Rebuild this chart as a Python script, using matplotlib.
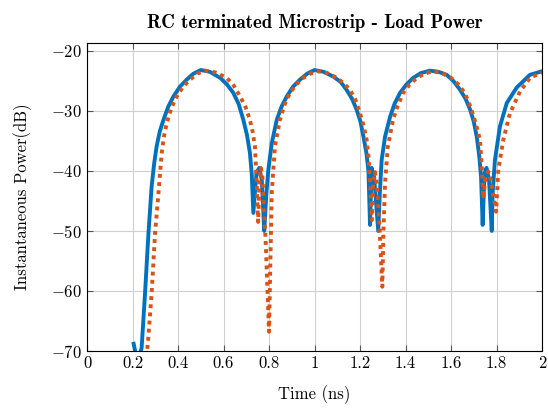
import matplotlib.pyplot as plt

# values
t_blue = [0.205, 0.222, 0.240, 0.255, 0.270, 0.284, 0.295, 0.306, 0.320, 0.336, 0.357, 0.380, 0.408,
          0.438, 0.468, 0.500, 0.540, 0.585, 0.615, 0.643, 0.667, 0.687, 0.703, 0.716, 0.724, 0.731,
          0.745, 0.757, 0.768, 0.779, 0.788, 0.797, 0.812, 0.834, 0.855, 0.878, 0.905, 0.936, 0.968,
          1.000, 1.040, 1.083, 1.115, 1.141, 1.165, 1.185, 1.202, 1.215, 1.228, 1.237,
          1.244, 1.251, 1.262, 1.280, 1.287, 1.295, 1.310, 1.332, 1.352, 1.376, 1.404, 1.434, 1.468,
          1.508, 1.545, 1.581, 1.612, 1.640, 1.664, 1.684, 1.700, 1.713, 1.724, 1.732,
          1.739, 1.747, 1.756, 1.767, 1.779, 1.783, 1.793, 1.815, 1.845, 1.889, 1.947, 2.000]
p_blue = [-68.8, -72.0, -69.5, -60.4, -50.4, -42.6, -38.8, -35.9, -33.4, -31.5, -29.3, -27.6, -26.0,
          -24.8, -23.8, -23.2, -23.5, -24.5, -25.6, -27.0, -28.9, -31.5, -34.0, -37.0, -40.5, -47.0,
          -40.3, -39.5, -41.5, -50.0, -44.0, -39.8, -35.4, -31.5, -29.3, -27.6, -26.0, -24.8, -23.8,
          -23.2, -23.5, -24.3, -25.2, -26.5, -28.0, -29.8, -31.8, -34.3, -37.0, -40.0,
          -49.0, -39.5, -41.0, -50.0, -43.7, -38.2, -34.3, -31.0, -28.8, -27.0, -25.6, -24.5, -23.7,
          -23.3, -23.5, -24.0, -25.1, -26.5, -28.0, -29.8, -31.8, -34.3, -37.5, -41.0,
          -49.0, -40.5, -39.5, -41.5, -50.0, -43.7, -38.2, -32.6, -28.7, -26.1, -24.0, -23.4]

t_orange = [0.262, 0.270, 0.284, 0.299, 0.314, 0.328, 0.338, 0.350, 0.370, 0.394, 0.422, 0.453, 0.485,
            0.520, 0.565, 0.614, 0.645, 0.673, 0.697, 0.716, 0.728, 0.738, 0.746, 0.752, 0.758, 0.764,
            0.771, 0.785, 0.800, 0.806, 0.812, 0.826, 0.848, 0.868, 0.892, 0.920, 0.951, 0.982,
            1.015, 1.055, 1.098, 1.128, 1.156, 1.180, 1.200, 1.216, 1.229, 1.237,
            1.243, 1.252, 1.258, 1.266, 1.275, 1.287, 1.298, 1.303, 1.310, 1.322, 1.345, 1.365, 1.390,
            1.418, 1.450, 1.485, 1.520, 1.560, 1.600, 1.632, 1.660, 1.682, 1.700, 1.715, 1.727,
            1.735, 1.742, 1.750, 1.764, 1.775, 1.788, 1.798, 1.808, 1.830, 1.859, 1.903, 1.947, 2.000]
p_orange = [-71.0, -67.5, -60.4, -50.4, -43.7, -37.1, -34.3, -32.1, -29.6, -27.6, -26.0, -24.8, -23.8,
            -23.3, -23.6, -24.5, -25.8, -27.6, -29.4, -31.5, -33.5, -35.9, -42.0, -48.5, -42.0, -39.5,
            -41.0, -51.5, -66.8, -55.0, -43.7, -35.9, -31.5, -29.0, -27.0, -25.6, -24.5, -23.8,
            -23.4, -23.7, -24.5, -25.4, -26.5, -28.2, -30.4, -32.5, -34.8, -37.5,
            -41.0, -48.2, -42.0, -40.2, -42.5, -50.5, -59.3, -50.0, -42.0, -36.0, -31.5, -29.2, -27.0,
            -25.6, -24.5, -23.8, -23.4, -23.7, -24.5, -25.6, -27.0, -29.0, -31.0, -33.0, -34.8,
            -39.0, -44.6, -41.5, -40.1, -41.5, -44.5, -46.8, -39.8, -34.8, -30.4, -26.8, -24.5, -23.6]

x_ticks = [0, 0.2, 0.4, 0.6, 0.8, 1, 1.2, 1.4, 1.6, 1.8, 2]
y_ticks = [-70, -60, -50, -40, -30, -20]

plt.rcParams['font.family'] = 'cmr10'
plt.rcParams['mathtext.fontset'] = 'cm'
plt.rcParams['axes.formatter.use_mathtext'] = True

fig = plt.figure(figsize=(5.48, 4.08), dpi=100)
ax = fig.add_axes([0.1588, 0.1397, 0.8303, 0.7549])

ax.plot(t_blue, p_blue, color='#0072BD', linewidth=2.8, solid_joinstyle='round')
ax.plot(t_orange, p_orange, color='#D95319', linewidth=2.8, linestyle=(0, (1, 1.1)),
        dash_capstyle='butt')

ax.set_xlim(0, 2)
ax.set_ylim(-70, -18.7)
ax.set_xticks(x_ticks)
ax.set_xticklabels(['0', '0.2', '0.4', '0.6', '0.8', '1', '1.2', '1.4', '1.6', '1.8', '2'])
ax.set_yticks(y_ticks)
ax.grid(True, color='#d0d0d0', linewidth=0.8)
ax.set_axisbelow(True)
ax.tick_params(direction='in', top=True, right=True, labelsize=12, length=4, color='#555555')
for s in ax.spines.values():
    s.set_linewidth(0.8)

ax.set_xlabel('Time (ns)', fontsize=12, labelpad=10)
ax.set_ylabel('Instantaneous Power(dB)', fontsize=12, labelpad=14)
ax.set_title('RC terminated Microstrip - Load Power', fontfamily='cmb10', fontsize=13.5, pad=11)

fig.savefig('out.png', dpi=100)
